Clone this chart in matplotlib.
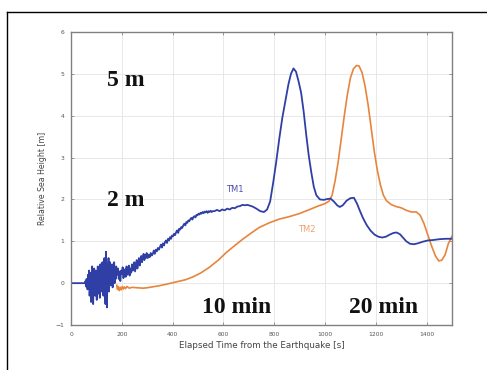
import numpy as np
import matplotlib
matplotlib.use("Agg")
import matplotlib.pyplot as plt
from matplotlib.lines import Line2D

tm1_noise_a = [0.0, 0.05, -0.08, 0.1, 0.02, -0.15, 0.2, -0.1, 0.3, -0.3,
               -0.05, 0.25, -0.45, 0.1, 0.4, -0.2, -0.5, 0.2, 0.35, -0.1,
               -0.3, 0.3, 0.05, -0.4, 0.15, 0.4, -0.25, 0.0, 0.3, -0.35,
               0.45, -0.1, 0.2, -0.2, 0.5, 0.1, -0.3, 0.35, 0.6, -0.15,
               -0.5, 0.75, 0.2, -0.58, 0.45, 0.1, 0.6, -0.2, 0.3, 0.5,
               -0.05, 0.4, 0.1, 0.45, -0.1, 0.3, 0.15, 0.5, 0.0, 0.35,
               0.1, 0.4]                                   # 55 .. 178 s
tm1_noise_b = [0.2, 0.35, 0.1, 0.28, 0.05, 0.3, 0.22, 0.38, 0.12, 0.25, 0.33, 0.15,
               0.4, 0.2, 0.3, 0.42, 0.18, 0.35, 0.25, 0.45, 0.3, 0.38, 0.5, 0.28,
               0.42, 0.55, 0.35, 0.5, 0.6, 0.42, 0.55, 0.65, 0.5, 0.62, 0.7, 0.55,
               0.68, 0.6, 0.72]                            # 182 .. 298 s
tm1_noise_c = [0.6, 0.68, 0.62, 0.72, 0.66, 0.7, 0.78, 0.7, 0.8, 0.76, 0.84, 0.8,
               0.86, 0.92, 0.85, 0.95, 0.9, 0.98, 1.02, 0.96, 1.06, 1.02, 1.1, 1.06,
               1.14, 1.12, 1.18, 1.15, 1.22, 1.26, 1.2, 1.3, 1.28, 1.34, 1.32, 1.38,
               1.42, 1.38, 1.46, 1.44, 1.5, 1.48, 1.53, 1.56, 1.52, 1.58, 1.6, 1.57,
               1.63, 1.62, 1.66, 1.64, 1.68, 1.66, 1.7, 1.67, 1.71, 1.69, 1.72, 1.68,
               1.72, 1.7, 1.73, 1.7, 1.72]                 # 302 .. 558 s
tm1_time_d = [565, 575, 585, 595, 605, 615, 625, 635, 645, 655, 665, 675, 685, 695,
              700, 715, 730, 745, 760, 772, 784, 796, 808, 820, 832, 844, 856, 866,
              876, 886, 896, 906, 916, 926, 936, 946, 956, 966, 980, 995, 1010, 1022,
              1035, 1048, 1058, 1070, 1085, 1100, 1114, 1126, 1138, 1150, 1165, 1180,
              1195, 1210, 1225, 1240, 1255, 1270, 1282, 1295, 1308, 1320, 1335, 1350,
              1365, 1385, 1405, 1425, 1450, 1475, 1500]
tm1_height_d = [1.72, 1.75, 1.72, 1.76, 1.74, 1.78, 1.76, 1.8, 1.79, 1.83, 1.84, 1.87,
                1.86, 1.87, 1.86, 1.83, 1.78, 1.72, 1.70, 1.76, 1.95, 2.4, 2.9, 3.45,
                3.95, 4.35, 4.75, 5.0, 5.13, 5.05, 4.82, 4.55, 4.1, 3.55, 3.05, 2.65,
                2.3, 2.1, 2.0, 1.99, 2.01, 2.02, 1.95, 1.86, 1.82, 1.86, 1.97, 2.03,
                2.04, 1.9, 1.72, 1.55, 1.38, 1.25, 1.16, 1.11, 1.09, 1.11, 1.16, 1.2,
                1.21, 1.17, 1.08, 1.0, 0.94, 0.93, 0.95, 0.99, 1.02, 1.03, 1.05, 1.06,
                1.06]

# TM2
tm2_time = [180, 183, 186, 190, 194, 198, 202, 206, 210, 215, 220, 230, 240, 260, 284,
            300, 320, 349, 380, 414, 450, 480, 510, 545, 580, 611, 645, 676, 710, 741,
            780, 820, 860, 898, 940, 976, 1000, 1016, 1028, 1040, 1052, 1064, 1076,
            1088, 1100, 1112, 1124, 1134, 1146, 1158, 1170, 1182, 1194, 1206, 1218,
            1230, 1242, 1260, 1280, 1300, 1320, 1340, 1360, 1375, 1390, 1405, 1420,
            1435, 1448, 1460, 1473, 1486, 1500]
tm2_height = [-0.05, -0.15, -0.08, -0.18, -0.1, -0.16, -0.08, -0.14, -0.09, -0.13,
              -0.08, -0.12, -0.1, -0.11, -0.12, -0.11, -0.09, -0.06, -0.02, 0.03, 0.08,
              0.15, 0.24, 0.38, 0.55, 0.73, 0.9, 1.05, 1.2, 1.33, 1.44, 1.53, 1.59,
              1.66, 1.76, 1.85, 1.9, 1.96, 2.1, 2.45, 2.9, 3.45, 4.0, 4.5, 4.9, 5.12,
              5.2, 5.19, 5.03, 4.7, 4.25, 3.7, 3.15, 2.7, 2.35, 2.1, 1.97, 1.88, 1.83,
              1.8, 1.74, 1.7, 1.7, 1.62, 1.42, 1.15, 0.88, 0.65, 0.53, 0.55, 0.68, 0.95,
              1.12]

tm1_time = np.concatenate([[0, 52],
                           np.linspace(55, 178, len(tm1_noise_a)),
                           np.linspace(182, 298, len(tm1_noise_b)),
                           np.linspace(302, 558, len(tm1_noise_c)),
                           tm1_time_d])
tm1_height = np.concatenate([[0, 0], tm1_noise_a, tm1_noise_b, tm1_noise_c, tm1_height_d])

fig = plt.figure(figsize=(4.87, 3.70), dpi=100)
ax = fig.add_axes([0.1458, 0.1216, 0.7823, 0.7919])

ax.plot(tm2_time, tm2_height, color='#e8843c', lw=1.2)
ax.plot(tm1_time, tm1_height, color='#2f3fa5', lw=1.3)

ax.set_xlim(0, 1500)
ax.set_ylim(-1, 6)
ax.set_xticks(np.arange(0, 1401, 200))
ax.set_yticks(np.arange(-1, 7, 1))
ax.grid(True, color='#e4e4e4', lw=0.6)
ax.tick_params(direction='in', length=2.5, width=0.6, color='#888888',
               labelsize=4.3, labelcolor='#555555', top=True, right=True, pad=5)
for s in ax.spines.values():
    s.set_color('#808080')
    s.set_linewidth(1.0)

ax.set_xlabel('Elapsed Time from the Earthquake [s]', fontsize=6.3, color='#444444', labelpad=3)
ax.set_ylabel('Relative Sea Height [m]', fontsize=5.6, color='#444444', labelpad=6)

big = dict(family=['Liberation Serif', 'DejaVu Serif'], fontweight='bold', fontsize=17,
           color='#111111', va='baseline')
ax.text(141, 4.70, '5 m', **big)
ax.text(141, 1.84, '2 m', **big)
ax.text(514, -0.72, '10 min', **big)
ax.text(1094, -0.72, '20 min', **big)

ax.text(612, 2.23, 'TM1', fontsize=6, color='#4a4fb0', va='center')
ax.text(894, 1.29, 'TM2', fontsize=6, color='#f0a070', va='center')

# outer black frame (left and top edges)
fig.add_artist(Line2D([7 / 487, 7 / 487], [0, 1 - 11.5 / 370], color='black', lw=1.0))
fig.add_artist(Line2D([7 / 487, 1], [1 - 11.5 / 370, 1 - 11.5 / 370], color='black', lw=1.0))

fig.savefig('out.png', dpi=100)
